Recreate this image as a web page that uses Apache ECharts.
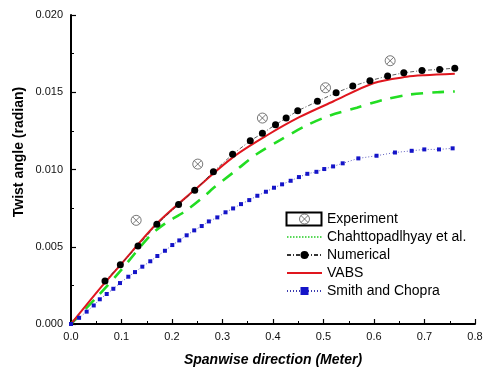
<!DOCTYPE html>
<html>
<head>
<meta charset="utf-8">
<script src="https://cdn.jsdelivr.net/npm/echarts@6/dist/echarts.min.js"></script>
<style>html,body{margin:0;padding:0;background:#fff}#c{width:494px;height:373px}</style>
</head>
<body>
<div id="c"></div>
<script>
// Data
const seriesNames = ['Experiment', 'Chahttopadlhyay et al.', 'Numerical', 'VABS', 'Smith and Chopra'];
const xTicks = [0, 0.1, 0.2, 0.3, 0.4, 0.5, 0.6, 0.7, 0.8];
const yTicks = [0, 0.005, 0.010, 0.015, 0.020];

const experiment = [[0.129, 0.00671], [0.251, 0.01035], [0.379, 0.01333], [0.504, 0.01529], [0.632, 0.01704]];

const chahttopadlhyay = [[0, 0], [0.05, 0.0017], [0.097, 0.0034], [0.156, 0.0057], [0.186, 0.0065], [0.226, 0.0073],
  [0.265, 0.0083], [0.282, 0.0088], [0.325, 0.0099], [0.368, 0.0110], [0.414, 0.0119], [0.463, 0.0128],
  [0.513, 0.0135], [0.566, 0.0140], [0.617, 0.0145], [0.671, 0.01485], [0.725, 0.0150], [0.76, 0.01505]];

const numerical = [[0.0673, 0.00278], [0.0977, 0.00384], [0.1327, 0.00505], [0.170, 0.00645], [0.213, 0.00774],
  [0.245, 0.00865], [0.282, 0.00986], [0.320, 0.01098], [0.355, 0.01186], [0.379, 0.01234], [0.405, 0.0129],
  [0.426, 0.01333], [0.449, 0.0138], [0.488, 0.01441], [0.525, 0.01497], [0.558, 0.0154], [0.592, 0.01575],
  [0.627, 0.01605], [0.659, 0.01626], [0.695, 0.01641], [0.730, 0.01648], [0.760, 0.01656]];

const vabs = [[0, 0], [0.06, 0.0024], [0.1, 0.0039], [0.17, 0.0065], [0.2455, 0.0087], [0.321, 0.0108],
  [0.3875, 0.0122], [0.453, 0.0134], [0.519, 0.0144], [0.6, 0.0156], [0.665, 0.0160], [0.7, 0.0161], [0.76, 0.0162]];

const smithChopra = [[0, 0], [0.016, 0.0004], [0.031, 0.0008], [0.045, 0.0012], [0.057, 0.0016], [0.0707, 0.00194],
  [0.0838, 0.00228], [0.097, 0.00265], [0.1135, 0.00306], [0.1267, 0.00336], [0.1412, 0.00371], [0.157, 0.00406],
  [0.171, 0.0044], [0.186, 0.00474], [0.2006, 0.00511], [0.2145, 0.00541], [0.229, 0.00574], [0.244, 0.00606],
  [0.2588, 0.00634], [0.273, 0.00664], [0.2897, 0.0069], [0.306, 0.00723], [0.321, 0.00748], [0.3366, 0.00776],
  [0.353, 0.00802], [0.369, 0.0083], [0.386, 0.00856], [0.402, 0.00882], [0.418, 0.00904], [0.435, 0.00927],
  [0.4514, 0.00951], [0.468, 0.00972], [0.486, 0.00985], [0.5015, 0.01003], [0.519, 0.0102], [0.538, 0.0104],
  [0.569, 0.01072], [0.605, 0.01089], [0.6415, 0.0111], [0.6746, 0.01121], [0.6996, 0.0113], [0.7287, 0.0113],
  [0.7557, 0.01137]];

const expSymbol = 'path://M0,-10A10,10 0 1,1 0,10A10,10 0 1,1 0,-10ZM-7,-7L7,7M7,-7L-7,7';
const FONT = 'Arial, "Liberation Sans", sans-serif';

const chart = echarts.init(document.getElementById('c'), null, {renderer: 'canvas'});
chart.setOption({
  animation: false,
  backgroundColor: '#fff',
  grid: {left: 71, right: 19, top: 15, bottom: 49, containLabel: false},
  xAxis: {
    type: 'value', min: xTicks[0], max: xTicks[xTicks.length - 1], interval: 0.1,
    name: 'Spanwise direction (Meter)', nameLocation: 'middle', nameGap: 29,
    nameTextStyle: {fontFamily: FONT, fontSize: 14, fontWeight: 'bold', fontStyle: 'italic', color: '#000'},
    axisLine: {onZero: false, lineStyle: {color: '#000', width: 2}},
    axisTick: {inside: true, length: 5, lineStyle: {color: '#000', width: 1.2}},
    minorTick: {show: true, splitNumber: 2, length: 3, lineStyle: {color: '#000', width: 1}},
    axisLabel: {fontFamily: FONT, fontSize: 11, color: '#111', margin: 7, formatter: v => v.toFixed(1)},
    splitLine: {show: false}
  },
  yAxis: {
    type: 'value', min: yTicks[0], max: yTicks[yTicks.length - 1], interval: 0.005,
    axisLine: {onZero: false, lineStyle: {color: '#000', width: 2}},
    axisTick: {inside: true, length: 5, lineStyle: {color: '#000', width: 1.2}},
    minorTick: {show: true, splitNumber: 2, length: 3, lineStyle: {color: '#000', width: 1}},
    axisLabel: {fontFamily: FONT, fontSize: 11, color: '#111', margin: 8, formatter: v => v.toFixed(3)},
    splitLine: {show: false}
  },
  legend: {
    orient: 'vertical', left: 286, top: 212, padding: 0, itemWidth: 35, itemHeight: 10, itemGap: 4,
    textStyle: {fontFamily: FONT, fontSize: 14, color: '#000'},
    data: [
      {name: seriesNames[0], icon: expSymbol, itemStyle: {color: 'rgba(0,0,0,0)', borderColor: '#555', borderWidth: 1}},
      {name: seriesNames[1], itemStyle: {opacity: 0}, lineStyle: {type: [1.5, 1.5], width: 1.5, color: '#22cc22'}},
      {name: seriesNames[2]},
      {name: seriesNames[3], itemStyle: {opacity: 0}},
      {name: seriesNames[4]}
    ]
  },
  graphic: [
    {type: 'rect', shape: {x: 286.5, y: 212.5, width: 35, height: 13}, style: {fill: 'none', stroke: '#000', lineWidth: 2}, z: 100},
    {type: 'text', x: 19, y: 152, rotation: Math.PI / 2,
     style: {text: 'Twist angle (radian)', font: 'bold 14px ' + FONT, fill: '#000', align: 'center', verticalAlign: 'middle'}}
  ],
  series: [
    {
      name: seriesNames[0], type: 'scatter', data: experiment, symbol: expSymbol, symbolSize: 10, z: 5,
      itemStyle: {color: 'rgba(0,0,0,0)', borderColor: '#555', borderWidth: 1}
    },
    {
      name: seriesNames[1], type: 'line', data: chahttopadlhyay, smooth: 0.3, showSymbol: false, symbol: 'none',
      lineStyle: {color: '#22dd22', width: 2.6, type: [12, 9]}, itemStyle: {color: '#22dd22'}, z: 2
    },
    {
      name: seriesNames[2], type: 'line', data: numerical, symbol: 'circle', symbolSize: 7, z: 4,
      lineStyle: {color: '#333', width: 0.8, type: [4, 2, 1, 2]}, itemStyle: {color: '#000'}
    },
    {
      name: seriesNames[3], type: 'line', data: vabs, smooth: 0.3, showSymbol: false, symbol: 'none', z: 3,
      lineStyle: {color: '#e0161e', width: 2}, itemStyle: {color: '#e0161e'}
    },
    {
      name: seriesNames[4], type: 'line', data: smithChopra, symbol: 'rect', symbolSize: 4, z: 3,
      lineStyle: {color: '#3a3ab0', width: 0.8, type: [1, 2]}, itemStyle: {color: '#1414c8'}
    }
  ]
});
</script>
</body>
</html>
